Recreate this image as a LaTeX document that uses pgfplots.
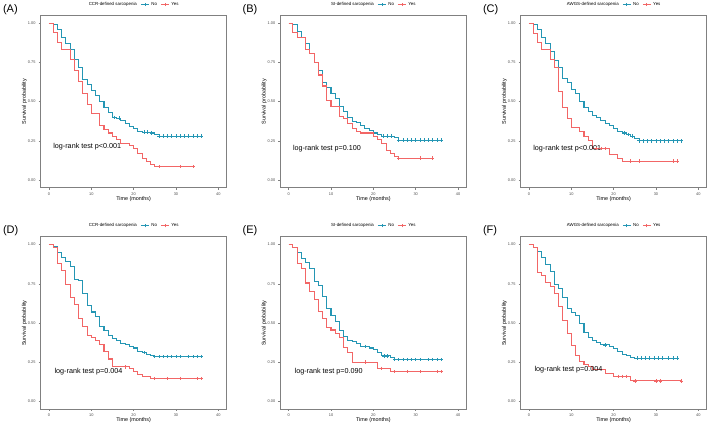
\documentclass[border=0pt]{standalone}
\usepackage{pgfplots}
\pgfplotsset{compat=1.18}
\usepackage{fontspec}
\setmainfont{Liberation Sans}
\definecolor{kmno}{RGB}{36,150,180}
\definecolor{kmyes}{RGB}{242,102,102}
\tikzset{
  lrtext/.style={anchor=west, font=\fontsize{7.2}{8}\selectfont},
  plab/.style={anchor=west, font=\fontsize{11}{12}\selectfont},
}
\pgfplotsset{
  km/.style={
    scale only axis, width=186.3pt, height=172.3pt, clip=false,
    xmin=-2, xmax=42, ymin=-0.05, ymax=1.05,
    xtick={0,10,20,30,40}, ytick={0,0.25,0.5,0.75,1},
    yticklabels={0.00,0.25,0.50,0.75,1.00},
    axis line style={draw=black!50, line width=0.9pt},
    tick style={draw=black!50, line width=0.5pt},
    tick align=outside, major tick length=1.8pt,
    xtick pos=bottom, ytick pos=left,
    /pgf/number format/assume math mode=true,
    ticklabel style={font=\fontsize{3.9}{4.5}\selectfont, text=black!70},
    xticklabel style={yshift=0.6pt},
    yticklabel style={xshift=0.4pt},
    xlabel={Time (months)}, ylabel={Survival probability},
    label style={font=\fontsize{5.4}{6}\selectfont},
    xlabel style={yshift=5.5pt},
    ylabel style={yshift=-6pt},
    legend columns=-1,
    legend style={draw=none, fill=none, at={(0.5,1.0)}, anchor=south, yshift=6.5pt,
      font=\fontsize{4.4}{5}\selectfont, inner sep=0pt,
      /tikz/every even column/.append style={column sep=1.5pt}},
    legend cell align=left,
    every axis plot/.append style={line width=1.05pt},
  },
  nostep/.style={const plot, kmno, legend image code/.code={
      \draw[##1,line width=0.9pt] (0pt,0pt) -- (8pt,0pt);
      \draw[##1,line width=0.6pt] (4pt,-1.6pt) -- (4pt,1.6pt);}},
  yesstep/.style={const plot, kmyes, legend image code/.code={
      \draw[##1,line width=0.9pt] (0pt,0pt) -- (8pt,0pt);
      \draw[##1,line width=0.6pt] (4pt,-1.6pt) -- (4pt,1.6pt);}},
  nocens/.style={only marks, mark=+, mark size=1.7pt, kmno, mark options={line width=0.65pt}, forget plot},
  yescens/.style={only marks, mark=+, mark size=1.7pt, kmyes, mark options={line width=0.65pt}, forget plot},
}
\begin{document}
\begin{tikzpicture}
\path[use as bounding box] (0pt,0pt) rectangle (709pt,424pt);
% ---------------- (A)
\begin{axis}[km, at={(40.5pt,236.2pt)}, anchor=south west]
\addlegendimage{empty legend}\addlegendentry{CCR-defined sarcopenia}
\addplot[nostep] table[row sep=\\]{x y\\ 0 1\\ 1 0.99\\ 2 0.96\\ 3 0.91\\ 4 0.87\\ 5 0.83\\ 6 0.77\\ 7 0.72\\ 8 0.64\\ 9 0.61\\ 10 0.57\\ 11 0.54\\ 12 0.50\\ 13 0.46\\ 14 0.43\\ 15 0.40\\ 16 0.395\\ 17 0.38\\ 18 0.36\\ 19 0.34\\ 20 0.33\\ 21 0.31\\ 22 0.305\\ 24 0.30\\ 25 0.29\\ 26 0.28\\ 36 0.28\\};
\addlegendentry{No}
\addplot[yesstep] table[row sep=\\]{x y\\ 0 1\\ 1 0.94\\ 2 0.88\\ 3 0.83\\ 5 0.77\\ 6 0.70\\ 7 0.63\\ 8 0.55\\ 9 0.48\\ 10 0.425\\ 12 0.345\\ 13 0.32\\ 14 0.30\\ 15 0.28\\ 16 0.26\\ 17 0.235\\ 19 0.22\\ 20 0.20\\ 21 0.17\\ 22 0.135\\ 23 0.12\\ 24 0.10\\ 25 0.085\\ 34 0.085\\};
\addlegendentry{Yes}
\addplot[nocens] table[row sep=\\]{x y\\ 15.5 0.40\\ 16.5 0.395\\ 22.5 0.305\\ 23.3 0.305\\ 24.2 0.30\\ 26 0.28\\ 27 0.28\\ 28 0.28\\ 29 0.28\\ 30 0.28\\ 31 0.28\\ 32 0.28\\ 33 0.28\\ 34 0.28\\ 35 0.28\\ 36 0.28\\};
\addplot[yescens] table[row sep=\\]{x y\\ 26 0.085\\ 31 0.085\\ 34 0.085\\};
\node[lrtext] at (axis cs:0.2,0.21) {log-rank test p<0.001};
\node[plab] at ([xshift=-41pt,yshift=6.3pt]rel axis cs:0,1) {(A)};
\end{axis}
% ---------------- (B)
\begin{axis}[km, at={(280.2pt,236.2pt)}, anchor=south west]
\addlegendimage{empty legend}\addlegendentry{SI-defined sarcopenia}
\addplot[nostep] table[row sep=\\]{x y\\ 0 1\\ 1 0.99\\ 2 0.95\\ 3 0.91\\ 4 0.87\\ 5 0.81\\ 6 0.75\\ 7 0.70\\ 8 0.62\\ 9 0.59\\ 10 0.55\\ 11 0.52\\ 12 0.47\\ 13 0.44\\ 14 0.40\\ 15 0.375\\ 16 0.365\\ 17 0.35\\ 18 0.33\\ 19 0.315\\ 20 0.30\\ 21 0.29\\ 22 0.28\\ 25 0.27\\ 26 0.255\\ 36 0.255\\};
\addlegendentry{No}
\addplot[yesstep] table[row sep=\\]{x y\\ 0 1\\ 1 0.94\\ 2 0.91\\ 4 0.83\\ 5 0.81\\ 6 0.75\\ 7 0.67\\ 8 0.60\\ 9 0.51\\ 10 0.47\\ 12 0.405\\ 13 0.39\\ 14 0.36\\ 15 0.33\\ 16 0.31\\ 17 0.30\\ 20 0.28\\ 21 0.26\\ 22 0.23\\ 23 0.19\\ 24 0.17\\ 25 0.15\\ 26 0.14\\ 34 0.14\\};
\addlegendentry{Yes}
\addplot[nocens] table[row sep=\\]{x y\\ 22.3 0.28\\ 23.2 0.28\\ 24.2 0.28\\ 26 0.255\\ 27 0.255\\ 28 0.255\\ 29 0.255\\ 30 0.255\\ 31 0.255\\ 32 0.255\\ 33 0.255\\ 34 0.255\\ 35 0.255\\ 36 0.255\\};
\addplot[yescens] table[row sep=\\]{x y\\ 26 0.14\\ 31 0.14\\ 34 0.14\\};
\node[lrtext] at (axis cs:0.2,0.2) {log-rank test p=0.100};
\node[plab] at ([xshift=-41pt,yshift=6.3pt]rel axis cs:0,1) {(B)};
\end{axis}
% ---------------- (C)
\begin{axis}[km, at={(520.5pt,236.2pt)}, anchor=south west]
\addlegendimage{empty legend}\addlegendentry{AWGS-defined sarcopenia}
\addplot[nostep] table[row sep=\\]{x y\\ 0 1\\ 1 0.99\\ 2 0.96\\ 3 0.91\\ 4 0.87\\ 5 0.82\\ 6 0.76\\ 7 0.72\\ 8 0.65\\ 9 0.62\\ 10 0.58\\ 11 0.55\\ 12 0.50\\ 13 0.46\\ 14 0.435\\ 15 0.41\\ 16 0.40\\ 17 0.38\\ 18 0.36\\ 19 0.345\\ 20 0.33\\ 21 0.31\\ 22 0.30\\ 23 0.29\\ 24 0.28\\ 25 0.265\\ 26 0.25\\ 36 0.25\\};
\addlegendentry{No}
\addplot[yesstep] table[row sep=\\]{x y\\ 0 1\\ 1 0.935\\ 2 0.875\\ 3 0.83\\ 5 0.77\\ 6 0.715\\ 7 0.565\\ 8 0.465\\ 9 0.395\\ 10 0.335\\ 12 0.31\\ 13 0.28\\ 14 0.25\\ 15 0.20\\ 19 0.165\\ 20 0.16\\ 21 0.14\\ 22 0.12\\ 35 0.12\\};
\addlegendentry{Yes}
\addplot[nocens] table[row sep=\\]{x y\\ 22.5 0.30\\ 23.5 0.29\\ 24.5 0.28\\ 26 0.25\\ 27 0.25\\ 28 0.25\\ 29 0.25\\ 30 0.25\\ 31 0.25\\ 32 0.25\\ 33 0.25\\ 34 0.25\\ 35 0.25\\ 36 0.25\\};
\addplot[yescens] table[row sep=\\]{x y\\ 16 0.20\\ 17 0.20\\ 18 0.20\\ 24 0.12\\ 26 0.12\\ 34 0.12\\ 35 0.12\\};
\node[lrtext] at (axis cs:0.2,0.2) {log-rank test p<0.001};
\node[plab] at ([xshift=-41pt,yshift=6.3pt]rel axis cs:0,1) {(C)};
\end{axis}
% ---------------- (D)
\begin{axis}[km, at={(40.5pt,14.9pt)}, anchor=south west]
\addlegendimage{empty legend}\addlegendentry{CCR-defined sarcopenia}
\addplot[nostep] table[row sep=\\]{x y\\ 0 1\\ 1 0.99\\ 2 0.95\\ 3 0.92\\ 4 0.89\\ 5 0.86\\ 6 0.78\\ 7 0.77\\ 8 0.69\\ 9 0.61\\ 10 0.57\\ 11 0.54\\ 12 0.48\\ 13 0.45\\ 14 0.42\\ 15 0.40\\ 16 0.39\\ 17 0.37\\ 18 0.36\\ 19 0.35\\ 20 0.34\\ 21 0.32\\ 22 0.31\\ 23 0.30\\ 24 0.29\\ 25 0.285\\ 36 0.285\\};
\addlegendentry{No}
\addplot[yesstep] table[row sep=\\]{x y\\ 0 1\\ 1 0.98\\ 2 0.88\\ 3 0.835\\ 4 0.745\\ 5 0.66\\ 6 0.62\\ 7 0.53\\ 8 0.48\\ 9 0.42\\ 10 0.405\\ 11 0.39\\ 12 0.36\\ 13 0.315\\ 14 0.27\\ 15 0.22\\ 19 0.21\\ 20 0.19\\ 21 0.17\\ 22 0.16\\ 24 0.145\\ 36 0.145\\};
\addlegendentry{Yes}
\addplot[nocens] table[row sep=\\]{x y\\ 22.5 0.31\\ 25 0.285\\ 26 0.285\\ 27 0.285\\ 28 0.285\\ 29 0.285\\ 30 0.285\\ 31 0.285\\ 33 0.285\\ 34 0.285\\ 35 0.285\\ 36 0.285\\};
\addplot[yescens] table[row sep=\\]{x y\\ 18 0.22\\ 25 0.145\\ 28 0.145\\ 31 0.145\\ 35 0.145\\ 36 0.145\\};
\node[lrtext] at (axis cs:0.5,0.19) {log-rank test p=0.004};
\node[plab] at ([xshift=-41pt,yshift=6.3pt]rel axis cs:0,1) {(D)};
\end{axis}
% ---------------- (E)
\begin{axis}[km, at={(280.2pt,14.9pt)}, anchor=south west]
\addlegendimage{empty legend}\addlegendentry{SI-defined sarcopenia}
\addplot[nostep] table[row sep=\\]{x y\\ 0 1\\ 1 0.98\\ 2 0.95\\ 3 0.91\\ 4 0.885\\ 5 0.845\\ 6 0.765\\ 7 0.74\\ 8 0.67\\ 9 0.59\\ 10 0.545\\ 11 0.51\\ 12 0.45\\ 13 0.415\\ 14 0.39\\ 15 0.38\\ 16 0.37\\ 17 0.35\\ 19 0.34\\ 20 0.33\\ 21 0.31\\ 22 0.29\\ 24 0.28\\ 25 0.265\\ 36 0.265\\};
\addlegendentry{No}
\addplot[yesstep] table[row sep=\\]{x y\\ 0 1\\ 1 0.98\\ 2 0.88\\ 3 0.85\\ 4 0.755\\ 5 0.70\\ 6 0.65\\ 7 0.575\\ 8 0.53\\ 9 0.47\\ 10 0.455\\ 11 0.435\\ 12 0.41\\ 13 0.345\\ 14 0.31\\ 15 0.25\\ 19 0.245\\ 21 0.21\\ 24 0.19\\ 36 0.19\\};
\addlegendentry{Yes}
\addplot[nocens] table[row sep=\\]{x y\\ 18 0.35\\ 22.5 0.29\\ 23.3 0.29\\ 25 0.265\\ 26 0.265\\ 27 0.265\\ 28 0.265\\ 29 0.265\\ 30 0.265\\ 31 0.265\\ 33 0.265\\ 34 0.265\\ 35 0.265\\ 36 0.265\\};
\addplot[yescens] table[row sep=\\]{x y\\ 18 0.25\\ 22 0.21\\ 25 0.19\\ 28 0.19\\ 31 0.19\\ 35 0.19\\ 36 0.19\\};
\node[lrtext] at (axis cs:0.6,0.19) {log-rank test p=0.090};
\node[plab] at ([xshift=-41pt,yshift=6.3pt]rel axis cs:0,1) {(E)};
\end{axis}
% ---------------- (F)
\begin{axis}[km, at={(520.5pt,14.9pt)}, anchor=south west]
\addlegendimage{empty legend}\addlegendentry{AWGS-defined sarcopenia}
\addplot[nostep] table[row sep=\\]{x y\\ 0 1\\ 1 0.98\\ 2 0.955\\ 3 0.92\\ 4 0.875\\ 5 0.83\\ 6 0.745\\ 7 0.72\\ 8 0.66\\ 9 0.59\\ 10 0.565\\ 11 0.55\\ 12 0.495\\ 13 0.44\\ 14 0.41\\ 15 0.385\\ 16 0.375\\ 17 0.36\\ 19 0.35\\ 20 0.335\\ 21 0.32\\ 22 0.30\\ 23 0.29\\ 24 0.28\\ 25 0.275\\ 35 0.275\\};
\addlegendentry{No}
\addplot[yesstep] table[row sep=\\]{x y\\ 0 1\\ 1 0.98\\ 2 0.82\\ 3 0.805\\ 4 0.76\\ 5 0.73\\ 6 0.69\\ 7 0.605\\ 8 0.515\\ 9 0.43\\ 10 0.355\\ 11 0.295\\ 12 0.255\\ 13 0.235\\ 14 0.22\\ 15 0.20\\ 18 0.18\\ 20 0.16\\ 24 0.13\\ 36 0.13\\};
\addlegendentry{Yes}
\addplot[nocens] table[row sep=\\]{x y\\ 18 0.36\\ 25.5 0.275\\ 26.5 0.275\\ 27.5 0.275\\ 28.5 0.275\\ 29.5 0.275\\ 30.5 0.275\\ 31.5 0.275\\ 33 0.275\\ 34 0.275\\ 35 0.275\\};
\addplot[yescens] table[row sep=\\]{x y\\ 21 0.16\\ 22 0.16\\ 23 0.16\\ 25 0.13\\ 30 0.13\\ 31 0.13\\ 36 0.13\\};
\node[lrtext] at (axis cs:0.5,0.2) {log-rank test p=0.004};
\node[plab] at ([xshift=-41pt,yshift=6.3pt]rel axis cs:0,1) {(F)};
\end{axis}
\end{tikzpicture}
\end{document}
